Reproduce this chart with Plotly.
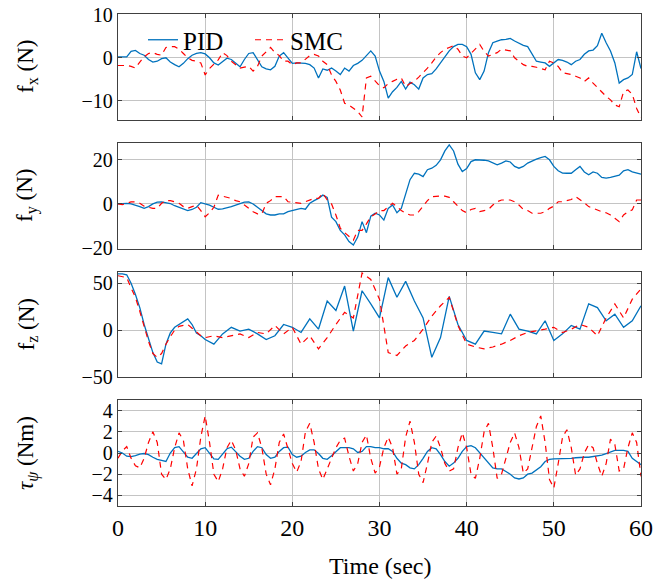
import numpy as np
import plotly.graph_objects as go

# ---------------- data ----------------
t_half = [i * 0.5 for i in range(121)]  # 0 .. 60 s, 0.5 s step

fx_pid = [0.2, 0.2, 0.2, 1.5, 1.7, 1.0, 0.6, -0.4, -1.0, -0.8,
          -0.2, 0.0, -1.0, -1.6, -2.1, -1.3, -0.2, 0.6, 1.0, 1.2,
          0.9, 0.0, -1.2, -1.7, -0.8, -0.1, -0.4, -1.2, -2.1, -0.4,
          1.0, 1.2, -0.4, -2.1, -2.6, -2.8, -2.0, 0.4, 1.2, -0.2,
          -1.3, -1.2, -1.2, -1.3, -1.6, -2.4, -4.7, -2.6, -2.9, -2.4,
          -3.1, -3.9, -2.4, -3.1, -1.8, -1.3, -0.6, 0.4, 1.6, 0.4,
          -3.1, -5.5, -9.4, -7.9, -6.9, -5.5, -7.3, -5.7, -6.3, -7.3,
          -4.7, -3.9, -3.7, -2.6, -1.2, 0.0, 1.6, 2.6, 3.1, 3.1,
          2.6, 0.8, -3.5, -5.1, -3.1, 1.2, 3.5, 3.9, 4.2, 4.3,
          4.5, 3.9, 3.4, 2.9, 2.6, 0.8, -0.8, -1.0, -1.2, -2.0,
          -1.2, -0.4, -0.6, -1.0, -1.6, -0.8, -0.4, 0.8, 1.6, 1.8,
          2.8, 5.7, 3.5, 1.6, -1.2, -5.9, -5.1, -4.7, -3.9, 1.4,
          -2.5]
fx_smc = [-1.8, -1.8, -1.8, -2.0, -2.4, -1.0, 0.2, 1.0, 1.2, 0.8,
          0.6, 2.4, 2.6, 2.6, 2.0, 1.0, 0.0, -0.6, -0.8, -1.2,
          -4.0, -2.5, -1.6, -0.5, 1.2, 0.5, -0.8, -1.5, -2.4, -2.2,
          -2.0, -3.1, -2.0, 0.4, 1.5, 2.4, 1.2, 0.5, -0.8, -0.8,
          -1.6, -1.2, -1.2, -0.4, 0.5, 0.8, 0.4, -0.8, -1.6, -4.0,
          -5.5, -7.5, -10.6, -11.0, -11.8, -12.5, -13.8, -4.7, -4.3, -5.5,
          -6.5, -7.0, -6.0, -5.5, -5.0, -4.7, -6.7, -6.0, -5.5, -4.5,
          -3.5, -2.4, -1.2, 0.2, 1.2, 2.0, 2.4, 2.8, 2.0, 0.4,
          0.0, 1.0, 2.0, 3.1, 1.5, 0.4, 0.8, 1.2, 2.0, 1.8,
          1.6, 0.0, -0.8, -1.6, -2.0, -2.0, -2.2, -2.5, -2.8, -0.8,
          -1.2, -2.0, -3.5, -3.7, -3.9, -4.3, -4.7, -5.5, -4.7, -5.9,
          -7.0, -7.9, -9.0, -9.8, -11.0, -11.4, -7.9, -7.5, -8.5, -11.8,
          -14.0]

fy_pid = [0.0, 0.2, 0.3, 0.0, -0.5, -1.2, -2.0, -1.2, 0.0, 0.8,
          0.9, 0.5, 0.2, -0.8, -1.5, -2.4, -3.0, -2.5, -1.5, 0.6,
          0.2, -0.5, -1.5, -2.4, -2.2, -1.8, -1.2, -0.5, 0.3, 0.8,
          0.9, 0.0, -1.5, -3.0, -4.5, -5.0, -5.0, -4.5, -4.5, -3.5,
          -3.0, -2.5, -2.0, -2.4, 0.3, 1.5, 2.5, 4.0, 3.0, -6.0,
          -8.0, -12.0, -14.0, -17.0, -18.6, -15.0, -8.0, -13.0, -5.5, -4.2,
          -5.0, -7.3, -2.0, -0.5, -4.0, -2.0, 4.8, 11.0, 13.9, 13.5,
          12.4, 15.5, 16.2, 17.5, 20.0, 24.0, 26.8, 24.0, 18.0, 14.7,
          16.0, 19.2, 20.0, 20.0, 19.8, 19.5, 18.5, 17.7, 18.5, 19.5,
          19.0, 17.0, 16.2, 17.0, 18.5, 19.5, 20.3, 21.0, 21.5, 20.0,
          17.0, 15.0, 14.0, 13.9, 13.9, 15.5, 17.0, 14.5, 13.2, 14.5,
          13.9, 12.0, 11.7, 12.0, 12.4, 13.0, 15.0, 15.5, 14.5, 14.0,
          13.5]
fy_smc = [0.0, -0.3, 0.3, 0.9, 0.9, 0.3, -1.0, -1.5, -2.0, -2.0,
          0.3, 1.5, 1.5, 1.0, 0.3, -1.2, -2.0, -1.2, -0.5, -3.0,
          -5.8, -4.0, -1.5, 4.0, 3.5, 3.0, 2.5, 1.5, 1.0, -0.5,
          -2.0, -3.5, -4.5, -4.5, 0.3, 1.5, 3.3, 3.3, 3.3, 1.0,
          0.8, 0.3, 0.3, 1.0, 1.8, 2.5, 2.5, 4.8, 1.8, 0.0,
          -5.0, -11.0, -13.0, -14.5, -16.4, -12.0, -12.0, -9.0, -5.8, -4.5,
          -3.0, -3.0, -1.2, 0.3, -1.2, -3.0, -4.2, -5.0, -5.0, -3.5,
          -1.0, 1.5, 3.3, 3.5, 3.6, 3.5, 3.0, 1.0, -1.0, -3.0,
          -4.0, -2.5, -2.0, -3.5, -3.0, -2.5, -0.5, 1.0, 1.8, 1.8,
          1.8, 1.0, -0.5, -2.5, -3.0, -4.2, -4.2, -4.2, -3.5, -2.0,
          -1.0, 1.0, 1.0, 1.5, 2.0, 3.3, 2.0, 0.5, -1.2, -2.0,
          -2.7, -3.5, -4.0, -5.0, -6.5, -8.0, -5.0, -3.5, -2.7, 1.8,
          1.8]

t_fz = [i * 0.5 for i in range(20)] + [float(s) for s in range(10, 61)]
fz_pid = [60, 60, 59, 50, 38, 24, 6, -10, -24, -34,
          -36, -15, -3, 3, 6, 9, 12, 6, -3, -6,
          -10, -15, -4, 3, -1, 1, -4, -10, -6, 6,
          3, -2.5, 12, 1, 31, 21, 47, -1, 42, 28,
          13, 56, 35, 52, 31, 13, -29, -8, 36, 6,
          -11, -15, -1, -2.5, -4, 17, 1, -1, -4, 10,
          -11, -4, 5, 1, 28, 24, 10, 17, 3, 10,
          26]
fz_smc = [58, 57, 56, 45, 35, 20, 4, -12, -25, -29,
          -25, -15, -7, 0, 4, 5, 6, 2, -2, -6,
          -8, -6, -8, -6, -4, -8, -2.5, -4, 5, -4,
          3, -15, -6, -20, -8, 6, 19, 13, 61, 54,
          33, -24, -27, -17, -11, 1, 15, 26, 35, 5,
          -15, -18, -20, -18, -15, -11, -6, -2.5, -1, 1,
          3, -2.5, 1, 6, 3, -6, 13, 28, 13, 33,
          44]

tau_pid = [0.15, 0.0, -0.3, -0.35, -0.25, -0.1, -0.05, -0.15, -0.4, -0.6,
           -0.7, -0.8, 0.0, 0.5, 0.6, 0.15, -0.4, -0.5, 0.0, 0.4,
           0.5, 0.0, -0.55, -0.6, -0.15, 0.4, 0.55, 0.15, -0.3, -0.6,
           -0.5, 0.15, 0.6, 0.5, -0.15, -0.5, -0.4, 0.15, 0.5, 0.55,
           -0.15, -0.4, -0.3, 0.05, 0.3, 0.3, -0.05, -0.5, -0.6, -0.25,
           0.15, 0.5, 0.5, 0.5, 0.4, 0.05, 0.15, 0.6, 0.6, 0.5,
           0.5, 0.4, 0.4, 0.15, -0.5, -0.95, -1.1, -1.4, -1.5, -1.1,
           -0.5, 0.15, 0.5, 0.4, -0.15, -0.8, -1.25, -0.95, -0.5, 0.15,
           0.6, 0.7, 0.5, 0.05, -0.4, -0.95, -1.4, -1.5, -1.5, -1.75,
           -2.0, -2.35, -2.45, -2.35, -2.0, -1.9, -1.6, -1.3, -0.8, -0.6,
           -0.55, -0.55, -0.55, -0.5, -0.5, -0.45, -0.4, -0.4, -0.4, -0.35,
           -0.3, -0.2, -0.05, 0.1, 0.25, 0.25, 0.25, 0.15, -0.5, -0.8,
           -1.1]
tau_smc = [-0.5, 0.2, 0.6, -0.5, -1.2, -1.4, -0.5, 1.0, 2.0, 1.0,
           -2.0, -2.5, -1.5, 0.5, 1.9, 1.2, -1.5, -3.1, -1.5, 1.5,
           3.5, 1.0, -2.0, -2.7, -1.5, 0.5, 1.2, 0.3, -1.5, -2.2,
           -1.0, 1.5, 1.9, 0.5, -2.0, -3.0, -1.5, 1.0, 1.8, 0.5,
           -1.0, -1.8, -0.8, 2.0, 2.8, 1.0, -1.5, -2.5, -1.5, -0.5,
           0.5, 1.2, 1.4, -0.3, -1.7, -1.0, 1.0, 1.7, -0.5, -1.9,
           -1.3, 0.5, 1.5, 0.5, -2.0, -1.5, 1.5, 3.0, 1.0, -2.0,
           -2.8, -1.0, 1.0, 1.6, 0.5, -1.0, -1.7, -1.5, 0.5, 1.9,
           0.5, -2.0, -2.4, -0.5, 2.0, 2.8, 0.5, -2.4, -2.0, -0.5,
           1.0, 1.9, 0.5, -1.9, -1.5, 0.5, 2.5, 3.5, 1.0, -2.5,
           -3.3, -1.0, 1.5, 2.2, 0.5, -2.1, -1.5, 0.0, 0.8, 0.5,
           -1.0, -2.2, -1.0, 1.3, 0.8, -1.7, -1.5, 0.5, 1.9, 1.0,
           -2.2]

x_ticks = [0, 10, 20, 30, 40, 50, 60]
y_ticks = [[-10, 0, 10], [-20, 0, 20], [-50, 0, 50], [-4, -2, 0, 2, 4]]
y_ranges = [[-14.5, 10.2], [-20.4, 27.6], [-50, 62], [-5, 5]]
y_labels = ["f<sub>x</sub> (N)", "f<sub>y</sub> (N)", "f<sub>z</sub> (N)",
            "<i>τ</i><sub><i>ψ</i></sub> (Nm)"]
series_names = ["PID", "SMC"]

# ---------------- figure ----------------
# page body adds an 8px margin, so the figure is drawn 8px smaller and
# every pixel position below is expressed in page pixels minus 8.
OFF = 8
W, H = 670 - OFF, 579 - OFF
ML, MR, MT, MB = 118 - OFF, 29, 14 - OFF, 73
PW = W - ML - MR
PH = H - MT - MB
panel_px = [(14, 120), (143, 249), (272, 377), (400, 506)]
bottom_px = 506

BLUE = "#0072BD"
RED = "#FF0000"
FONT = "Liberation Serif"

fig = go.Figure()
data = [
    (t_half, fx_pid, t_half, fx_smc),
    (t_half, fy_pid, t_half, fy_smc),
    (t_fz, fz_pid, t_fz, fz_smc),
    (t_half, tau_pid, t_half, tau_smc),
]
for i, (tp, yp, ts, ys) in enumerate(data):
    ax = "" if i == 0 else str(i + 1)
    fig.add_trace(go.Scatter(x=tp, y=yp, mode="lines", name=series_names[0],
                             line=dict(color=BLUE, width=1.3),
                             xaxis="x" + ax, yaxis="y" + ax, showlegend=(i == 0)))
    fig.add_trace(go.Scatter(x=ts, y=ys, mode="lines", name=series_names[1],
                             line=dict(color=RED, width=1.2, dash="6px,5px"),
                             xaxis="x" + ax, yaxis="y" + ax, showlegend=(i == 0)))

layout = dict(
    width=W, height=H,
    margin=dict(l=ML, r=MR, t=MT, b=MB, pad=0, autoexpand=False),
    paper_bgcolor="white", plot_bgcolor="white",
    font=dict(family=FONT, size=20, color="black"),
    showlegend=True,
    legend=dict(orientation="h", x=(143 - 118) / PW, xanchor="left",
                y=(bottom_px - 40) / PH, yanchor="middle",
                bgcolor="rgba(0,0,0,0)", font=dict(size=25, family=FONT),
                entrywidth=62, entrywidthmode="pixels",
                itemwidth=30, tracegroupgap=0),
)
annotations = []
for i in range(4):
    top, bot = panel_px[i]
    d0 = (bottom_px - bot) / PH
    d1 = (bottom_px - top) / PH
    ax = "" if i == 0 else str(i + 1)
    layout["xaxis" + ax] = dict(
        domain=[0, 1], range=[0, 60], anchor="y" + ax,
        tickvals=x_ticks, showticklabels=(i == 3),
        tickfont=dict(size=24, family=FONT),
        showgrid=True, gridcolor="#c4c4c4", gridwidth=1,
        showline=True, linecolor="#404040", linewidth=1.4, mirror="ticks",
        ticks="inside", ticklen=4, tickcolor="#404040",
        zeroline=False, ticklabeloverflow="allow",
        matches=None if i == 0 else "x",
    )
    layout["yaxis" + ax] = dict(
        domain=[d0, d1], range=y_ranges[i], anchor="x" + ax,
        tickvals=y_ticks[i],
        tickfont=dict(size=20, family=FONT),
        showgrid=True, gridcolor="#c4c4c4", gridwidth=1,
        showline=True, linecolor="#404040", linewidth=1.4, mirror="ticks",
        ticks="inside", ticklen=4, tickcolor="#404040",
        zeroline=False, ticklabeloverflow="allow",
    )
    annotations.append(dict(
        text=y_labels[i], xref="paper", yref="paper",
        x=(27 - 118) / PW, y=(d0 + d1) / 2,
        xanchor="center", yanchor="middle", textangle=-90,
        showarrow=False, font=dict(size=23, family=FONT),
    ))
annotations.append(dict(
    text="Time (sec)", xref="paper", yref="paper",
    x=0.5, y=(bottom_px - 566) / PH, xanchor="center", yanchor="middle",
    showarrow=False, font=dict(size=24, family=FONT),
))
layout["annotations"] = annotations
fig.update_layout(**layout)

fig.write_html("out.html")
